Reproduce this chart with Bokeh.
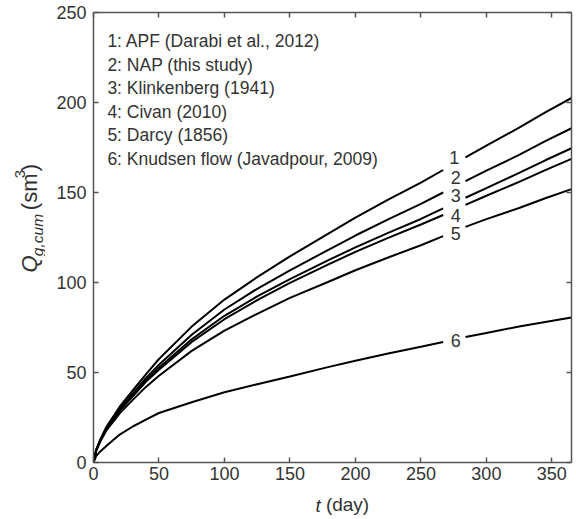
import math
from bokeh.plotting import figure
from bokeh.layouts import row
from bokeh.models import (LinearAxis, Label, FixedTicker, Range1d, ColumnDataSource,
                          CustomJSTickFormatter, CustomLabelingPolicy)
from bokeh.embed import file_html
from bokeh.resources import INLINE

nan = float("nan")

# time (day); NaN marks the gap where the inline curve labels sit
t_day = [0, 2, 5, 10, 20, 30, 40, 50, 75, 100, 125, 150, 179, 200, 225, 250, 267, nan, 284, 300, 325, 345, 365]

q_apf = [0, 7, 12.5, 20, 31, 40, 49, 57.5, 75.5, 90.5, 103, 114.5, 127, 136, 146, 155.5, 162.5, nan, 169.5, 176, 186, 194.5, 202.5]
q_nap = [0, 6.8, 12.1, 19.3, 29.8, 38.2, 46.8, 54.3, 71.0, 85.0, 96.5, 106.8, 118.0, 126.1, 135.1, 143.7, 150.0, nan, 156.3, 162.1, 170.9, 178.5, 185.7]
q_klinkenberg = [0, 6.7, 11.9, 19.0, 29.1, 37.2, 45.5, 52.6, 68.5, 81.5, 92.3, 101.9, 112.3, 119.5, 127.6, 135.3, 141.2, nan, 147.1, 152.4, 160.9, 167.9, 174.6]
q_civan = [0, 6.7, 11.9, 18.8, 28.8, 36.8, 44.8, 51.5, 67.0, 79.6, 90.2, 99.8, 109.9, 117.0, 124.8, 132.2, 137.5, nan, 143.1, 148.2, 155.9, 162.4, 168.7]
q_darcy = [0, 6.4, 11.4, 18.0, 27.3, 34.8, 42.0, 48.2, 62.0, 73.3, 82.6, 91.5, 100.3, 106.8, 113.9, 120.7, 125.8, nan, 130.9, 135.2, 141.4, 146.8, 151.9]
q_knudsen = [0, 3.5, 6.0, 9.3, 15.5, 20.0, 23.8, 27.5, 33.5, 39.0, 43.5, 47.8, 53.0, 56.5, 60.5, 64.3, 67.0, nan, 69.7, 72.0, 75.5, 78.0, 80.5]

series_names = [
    "1: APF (Darabi et al., 2012)",
    "2: NAP (this study)",
    "3: Klinkenberg (1941)",
    "4: Civan (2010)",
    "5: Darcy (1856)",
    "6: Knudsen flow (Javadpour, 2009)",
]
curve_ids = ["1", "2", "3", "4", "5", "6"]
curve_label_t = [275.4, 276.6, 276.6, 276.6, 276.6, 276.6]
curve_label_q = [169.6, 158.5, 148.3, 137.2, 127.4, 67.8]

x_ticks = [0, 50, 100, 150, 200, 250, 300, 350]
y_ticks = [0, 50, 100, 150, 200, 250]

FONT = "Liberation Sans"
TXT = "#333333"
AX = "#555555"

# ---------------- narrow strip on the left holding the y-axis title ----------------
TITLE_W = 45
ttl = figure(width=TITLE_W, height=519, x_range=Range1d(0, TITLE_W), y_range=Range1d(519, 0),
             output_backend="svg", toolbar_location=None,
             x_axis_location=None, y_axis_location=None,
             min_border_left=0, min_border_right=0, min_border_top=0, min_border_bottom=0)
ttl.grid.visible = False
ttl.outline_line_color = None
ttl.background_fill_color = "white"
ttl.border_fill_color = "white"

ang = math.pi / 2
# (text, x, y, size, italic) -- y-axis title Q_{g,cum} (sm^3), rotated
title_parts = [
    ("Q", 29, 300, "22px", True),
    ("g,cum", 37, 281, "15.5px", True),
    ("(sm", 29, 228, "22px", False),
    ("3", 19.5, 191.3, "15px", False),
    (")", 29, 183, "22px", False),
]
for txt, lx, ly, fs, it in title_parts:
    ttl.add_layout(Label(x=lx, y=ly, text=txt, text_font=FONT, text_font_size=fs,
                         text_font_style="italic" if it else "normal", text_color=TXT,
                         angle=ang, text_align="left", text_baseline="alphabetic"))

# ---------------- main chart ----------------
p = figure(width=576 - TITLE_W, height=519, x_range=Range1d(0, 365), y_range=Range1d(0, 250),
           output_backend="svg", toolbar_location=None,
           min_border_left=93 - TITLE_W, min_border_right=1, min_border_top=12, min_border_bottom=57)
p.grid.visible = False
p.outline_line_color = None
p.background_fill_color = "white"
p.border_fill_color = "white"

no_labels = CustomLabelingPolicy(code="""
for (const i of Array.from(indices)) { indices.unset(i) }
return indices
""")

top_ax = LinearAxis()
right_ax = LinearAxis()
p.add_layout(top_ax, "above")
p.add_layout(right_ax, "right")

for ax in p.xaxis:
    ax.ticker = FixedTicker(ticks=x_ticks)
for ax in p.yaxis:
    ax.ticker = FixedTicker(ticks=y_ticks)

for ax in p.axis:
    ax.axis_line_color = AX
    ax.axis_line_width = 1.5
    ax.major_tick_in = 5
    ax.major_tick_out = 0
    ax.major_tick_line_color = AX
    ax.major_tick_line_width = 1.5
    ax.minor_tick_line_color = None
    ax.major_label_text_font = FONT
    ax.major_label_text_font_size = "18px"
    ax.major_label_text_color = TXT

p.below[0].major_label_standoff = 4
p.left[0].major_label_standoff = 7
for ax in (top_ax, right_ax):
    ax.major_label_text_font_size = "1px"
    ax.major_label_standoff = 0
    ax.major_label_policy = no_labels


def text_axis(side, ticks, texts, size, standoff, italic=False):
    ax = LinearAxis(ticker=FixedTicker(ticks=ticks),
                    formatter=CustomJSTickFormatter(args=dict(txt=texts), code="return txt[index];"))
    ax.axis_line_color = None
    ax.major_tick_line_color = None
    ax.minor_tick_line_color = None
    ax.major_tick_in = 0
    ax.major_tick_out = 0
    ax.major_label_standoff = standoff
    ax.major_label_text_font = FONT
    ax.major_label_text_font_size = size
    ax.major_label_text_color = TXT
    if italic:
        ax.major_label_text_font_style = "italic"
    p.add_layout(ax, side)
    return ax


# x-axis title: t (day)
text_axis("below", [171.6], ["t"], "19px", 12, italic=True)
text_axis("below", [194.0], ["(day)"], "19px", -25)

cols = [q_apf, q_nap, q_klinkenberg, q_civan, q_darcy, q_knudsen]
for q in cols:
    src = ColumnDataSource(dict(t=t_day, q=q))
    p.line("t", "q", source=src, line_color="black", line_width=2)

for cid, lt, lq in zip(curve_ids, curve_label_t, curve_label_q):
    p.add_layout(Label(x=lt, y=lq, text=cid, text_font=FONT, text_font_size="18px",
                       text_color=TXT, text_align="center", text_baseline="middle"))

legend_q = [234.2, 221.1, 208.0, 194.9, 181.8, 168.6]
for name, lq in zip(series_names, legend_q):
    p.add_layout(Label(x=10.6, y=lq, text=name, text_font=FONT, text_font_size="17.5px",
                       text_color=TXT, text_align="left", text_baseline="middle"))

layout = row(ttl, p, spacing=0)
open("out.html", "w").write(file_html(layout, INLINE))
